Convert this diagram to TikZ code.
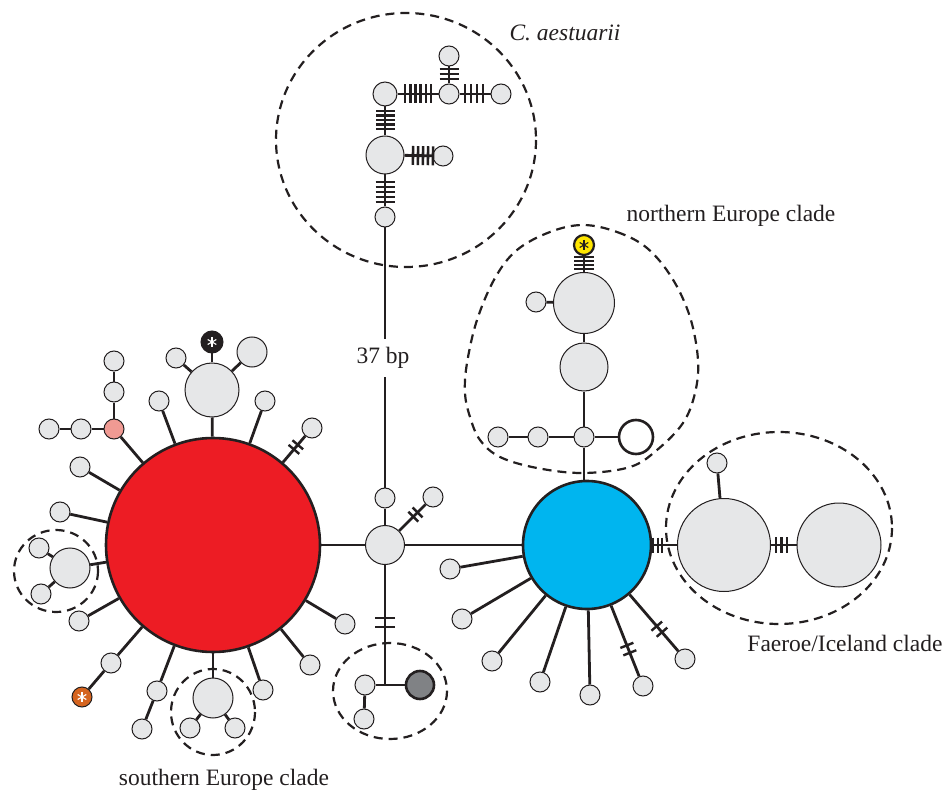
\documentclass[tikz,border=0pt]{standalone}
\usepackage{fontspec}
\setmainfont{Liberation Serif}
\usetikzlibrary{calc}
\definecolor{hred}{HTML}{ED1C24}
\definecolor{hblue}{HTML}{00B5EF}
\definecolor{hgray}{HTML}{E6E7E8}
\definecolor{hink}{HTML}{231F20}
\definecolor{hpink}{HTML}{F09A93}
\definecolor{horange}{HTML}{D5641F}
\definecolor{hdark}{HTML}{808285}
\definecolor{hyellow}{HTML}{FFE600}
\tikzset{
  hap/.style={circle, draw=hink, line width=1pt, fill=hgray, inner sep=0pt, minimum size=#1},
  hap/.default=20pt,
  bighap/.style={circle, draw=hink, line width=2.6pt, inner sep=0pt, minimum size=#1},
  link/.style={draw=hink, line width=2.8pt},
  tickln/.style={draw=hink, line width=#1},
  tickln/.default=2.6pt,
  clade/.style={draw=hink, dash pattern=on 9pt off 6pt, line width=2.2pt},
  lbl/.style={font=\fontsize{23.5}{28}\selectfont, text=hink, inner sep=0pt},
}
% #1 from node, #2 toward node, #3 distances from #1, #4 half length, #5 line width
\newcommand\tks[5]{\foreach \tkd in {#3}{%
  \path ($(#1)!\tkd pt!(#2)$) coordinate (tkp);
  \draw[tickln=#5] ($(tkp)!#4pt!90:(#2)$) -- ($(tkp)!#4pt!-90:(#2)$);}}
\newcommand\astk[2]{\foreach \ang in {90,30,150}{%
  \draw[draw=#2, line width=1.1pt] ($(#1)+(\ang:5pt)$) -- ($(#1)+(\ang+180:5pt)$);}}
\begin{document}
\begin{tikzpicture}[x=1pt,y=-1pt]
\useasboundingbox (0,0) rectangle (948,794);

% ---------- clade outlines ----------
\draw[clade] (406,140) ellipse [x radius=130, y radius=127];
\draw[clade] plot[smooth cycle, tension=0.6] coordinates {(583,225) (617,232) (647,248) (672,278) (690,317) (698,360) (695,393) (683,423) (657,450) (630,467) (583,473) (537,468) (500,457) (480,440) (470,417) (465,393) (467,363) (477,320) (495,278) (517,250) (550,232)};
\draw[clade] (779,528) ellipse [x radius=113, y radius=96];
\draw[clade] (390,691) ellipse [x radius=57, y radius=48];
\draw[clade] (213,712) ellipse [x radius=42, y radius=43];
\draw[clade] (56,571) ellipse [x radius=42, y radius=41];

% ---------- main haplotypes ----------
\node[bighap=214pt, fill=hred] (red) at (213,545) {};
\node[bighap=128pt, fill=hblue] (blue) at (587,545) {};
\node[hap=39pt] (hub) at (385,545) {};
\node[hap] (hubU) at (385,498) {};
\node[hap] (hubUR) at (433,497) {};
\coordinate (jn) at (385,685);
\node[hap] (dL) at (365,685) {};
\node[hap] (dLL) at (364,719) {};
\node[bighap=28pt, fill=hdark] (dR) at (420,685) {};

% ---------- C. aestuarii ----------
\node[hap] (cb) at (385,217) {};
\node[hap=38pt] (cB) at (385,155) {};
\node[hap] (cS) at (443,156) {};
\node[hap=24pt] (cTL) at (385,94) {};
\node[hap] (cM) at (449,94) {};
\node[hap] (cR) at (501,94) {};
\node[hap] (cT) at (449,56) {};

% ---------- northern Europe ----------
\node[bighap=20pt, line width=2.2pt, fill=hyellow] (ny) at (584,245) {};
\node[hap=61pt] (nB) at (584,303) {};
\node[hap] (nS) at (536,302) {};
\node[hap=48pt] (nB2) at (584,367) {};
\node[hap] (nJ) at (584,437) {};
\node[hap] (nL1) at (538,437) {};
\node[hap] (nL2) at (498,437) {};
\node[bighap=34pt, fill=white] (nO) at (636,437) {};

% ---------- Faeroe / Iceland ----------
\node[hap=93pt] (fB) at (724,545) {};
\node[hap] (fT) at (717,463) {};
\node[hap=84pt] (fR) at (839,545) {};

% ---------- blue spokes ----------
\node[hap] (b1) at (450,569) {};
\node[hap] (b2) at (462,619) {};
\node[hap] (b3) at (492,661) {};
\node[hap] (b4) at (540,682) {};
\node[hap] (b5) at (590,695) {};
\node[hap] (b6) at (643,686) {};
\node[hap] (b7) at (685,659) {};

% ---------- red cluster ----------
\node[hap=54pt] (rTop) at (212,390) {};
\node[circle, draw=hink, fill=hink, line width=1pt, inner sep=0pt, minimum size=22pt] (rBlk) at (212,342) {};
\node[hap=30pt] (rTR) at (252,352) {};
\node[hap] (rTL) at (176,358) {};
\node[hap] (r1) at (159,401) {};
\node[hap] (r2) at (265,401) {};
\node[hap] (r3) at (312,428) {};
\node[hap, fill=hpink] (pk) at (114,429) {};
\node[hap] (pL1) at (81,429) {};
\node[hap] (pL2) at (49,429) {};
\node[hap] (pU1) at (114,392) {};
\node[hap] (pU2) at (114,361) {};
\node[hap] (r4) at (80,467) {};
\node[hap] (r5) at (60,512) {};
\node[hap=40pt] (sw) at (70,568) {};
\node[hap] (sw1) at (39,548) {};
\node[hap] (sw2) at (41,594) {};
\node[hap] (r6) at (79,621) {};
\node[hap] (r7) at (111,663) {};
\node[hap, fill=horange] (or) at (82,697) {};
\node[hap] (r8) at (157,691) {};
\node[hap] (r9) at (142,729) {};
\node[hap=40pt] (sB) at (213,698) {};
\node[hap] (s1) at (190,728) {};
\node[hap] (s2) at (235,728) {};
\node[hap] (r10) at (263,690) {};
\node[hap] (r11) at (310,665) {};
\node[hap] (r12) at (345,624) {};

% ---------- connectors ----------
\draw[link] (red) -- (hub);
\draw[link] (hub) -- (blue);
\draw[link] (hub) -- (hubU);
\draw[link] (hubU) -- (cb);
\draw[link] (hub) -- (hubUR);
\draw[link] (hub) -- (jn);
\draw[link] (dL) -- (dR);
\draw[link] (dL) -- (dLL);

\draw[link] (cb) -- (cB);
\draw[link] (cB) -- (cS);
\draw[link] (cB) -- (cTL);
\draw[link, line width=1.3pt] (cTL) -- (cM);
\draw[link, line width=1.3pt] (cM) -- (cR);
\draw[link] (cM) -- (cT);

\draw[link] (ny) -- (nB);
\draw[link] (nS) -- (nB);
\draw[link] (nB) -- (nB2);
\draw[link] (nB2) -- (nJ);
\draw[link] (nJ) -- (nL1);
\draw[link] (nL1) -- (nL2);
\draw[link] (nJ) -- (nO);
\draw[link] (nJ) -- (nJ |- blue.north);

\draw[link] (blue) -- (fB);
\draw[link] (fT) -- (fB);
\draw[link] (fB) -- (fR);

\foreach \n in {b1,b2,b3,b4,b5,b6,b7} \draw[link] (blue) -- (\n);

\draw[link] (red) -- (rTop);
\draw[link] (rTop) -- (rBlk);
\draw[link] (rTop) -- (rTR);
\draw[link] (rTop) -- (rTL);
\foreach \n in {r1,r2,r3,pk,r4,r5,sw,r6,r7,r8,sB,r10,r11,r12} \draw[link] (red) -- (\n);
\draw[link] (pk) -- (pL1);
\draw[link] (pL1) -- (pL2);
\draw[link] (pk) -- (pU1);
\draw[link] (pU1) -- (pU2);
\draw[link] (sw) -- (sw1);
\draw[link] (sw) -- (sw2);
\draw[link] (r7) -- (or);
\draw[link] (r8) -- (r9);
\draw[link] (sB) -- (s1);
\draw[link] (sB) -- (s2);

% ---------- mutation ticks ----------
\tks{cb}{cB}{15,20,25,30,35}{9.5}{2.6pt}
\tks{cTL}{cB}{17,21.5,26,30.5,35}{9.5}{2.6pt}
\tks{cTL}{cM}{20,25.2,30.4,35.6,40.8,46}{9.5}{2.6pt}
\tks{cM}{cR}{16,22,28,34}{9.5}{2.6pt}
\tks{cM}{cT}{15,20,25}{9.5}{2.6pt}
\tks{cB}{cS}{28,33,38,43,48}{9.5}{2.6pt}
\tks{ny}{nB}{12,16,20,24}{10}{2pt}
\tks{hub}{hubUR}{40,46}{7}{2.4pt}
\tks{hub}{jn}{73,82}{10}{2.4pt}
\tks{blue}{b6}{108,116}{7}{2.4pt}
\tks{blue}{b7}{107,115}{7}{2.4pt}
\tks{blue}{fB}{66,70.5,75}{7.5}{2pt}
\tks{fB}{fR}{52,57.5,63}{8}{2.2pt}
\tks{r3}{red}{22,28}{7}{2.4pt}

% ---------- asterisks ----------
\astk{rBlk}{white}
\astk{ny}{hink}
\astk{or}{white}

% ---------- labels ----------
\node[lbl, fill=white, inner ysep=8pt, inner xsep=3pt] (bp) at (383,358) {37 bp};
\node[lbl] (lc) at (565,33) {\itshape C. aestuarii};
\node[lbl] (ln) at (731,216) {northern Europe clade};
\node[lbl] (lf) at (845,643) {Faeroe/Iceland clade};
\node[lbl] (ls) at (224,780) {southern Europe clade};
\end{tikzpicture}
\end{document}
